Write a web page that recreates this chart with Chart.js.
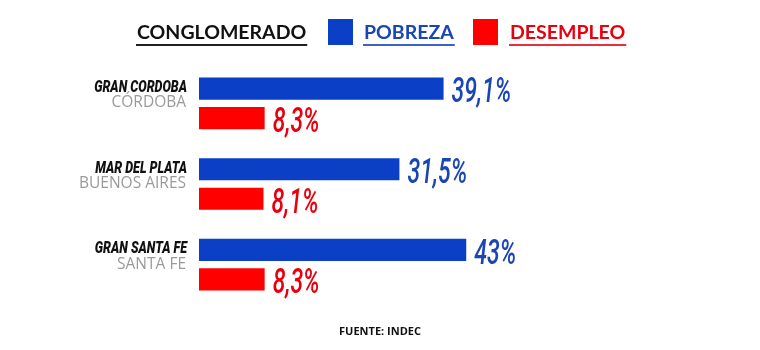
<!DOCTYPE html>
<html><head><meta charset="utf-8">
<script src="https://cdn.jsdelivr.net/npm/chart.js@4/dist/chart.umd.min.js"></script>
<style>html,body{margin:0;padding:0;background:#fff}#wrap{position:relative;width:760px;height:350px}</style>
</head><body><div id="wrap"><canvas id="c" width="760" height="350"></canvas></div>
<script>
const conglomerados = ["GRAN CORDOBA", "MAR DEL PLATA", "GRAN SANTA FE"];
const provincias = ["CÓRDOBA", "BUENOS AIRES", "SANTA FE"];
const pobreza = [39.1, 31.5, 43];
const desempleo = [8.3, 8.1, 8.3];
const legendTitle = "CONGLOMERADO";
const seriesNames = ["POBREZA", "DESEMPLEO"];
const fuente = "FUENTE: INDEC";

const BLUE = "#0b3fc6", RED = "#ff0000";
const BLUE_TXT = "#1a45b5", RED_TXT = "#e8000f";
const AXIS_MIN = -3;

const fmt = v => String(v).replace('.', ',') + '%';

const drawPlugin = {
  id: 'custom',
  afterDatasetsDraw(chart) {
    const ctx = chart.ctx;
    const ys = chart.scales.y;
    chart.data.datasets.forEach((ds, di) => {
      const meta = chart.getDatasetMeta(di);
      meta.data.forEach((el, i) => {
        ctx.save();
        ctx.translate(el.x + 8, el.y + 5);
        ctx.scale(0.66, 1);
        ctx.font = 'italic 500 35px Roboto';
        ctx.fillStyle = di === 0 ? BLUE_TXT : RED_TXT;
        ctx.textBaseline = 'middle';
        ctx.textAlign = 'left';
        ctx.fillText(fmt(ds.data[i]), 0, 0);
        ctx.restore();
      });
    });
    conglomerados.forEach((name, i) => {
      const yc = ys.getPixelForValue(i);
      ctx.save();
      ctx.translate(187, yc - 11.5);
      ctx.scale(0.76, 1);
      ctx.font = 'italic 900 16.5px Roboto';
      ctx.fillStyle = '#111';
      ctx.textAlign = 'right';
      ctx.textBaseline = 'alphabetic';
      ctx.fillText(name, 0, 0);
      ctx.restore();
      ctx.save();
      ctx.font = '15.5px "Open Sans"';
      ctx.fillStyle = '#9a9a9a';
      ctx.textAlign = 'right';
      ctx.textBaseline = 'alphabetic';
      ctx.fillText(provincias[i], 186, yc + 4);
      ctx.restore();
    });
  },
  afterDraw(chart) {
    const ctx = chart.ctx;
    ctx.save();
    ctx.textBaseline = 'alphabetic';
    ctx.textAlign = 'left';
    ctx.font = 'bold 19.5px Lato';
    const drawUnder = (txt, x, color, lineColor) => {
      ctx.fillStyle = color;
      ctx.fillText(txt, x, 39);
      const w = ctx.measureText(txt).width;
      ctx.fillStyle = lineColor;
      ctx.fillRect(x - 1, 44, w + 2, 2);
    };
    drawUnder(legendTitle, 137, '#111', '#222');
    ctx.fillStyle = BLUE; ctx.fillRect(328, 19, 25, 26);
    drawUnder(seriesNames[0], 364, BLUE_TXT, '#3a62c8');
    ctx.fillStyle = RED; ctx.fillRect(473, 19, 25, 26);
    drawUnder(seriesNames[1], 510, RED_TXT, '#e8303a');
    ctx.font = 'bold 11px "Open Sans"';
    ctx.fillStyle = '#111';
    ctx.textAlign = 'center';
    ctx.textBaseline = 'middle';
    ctx.fillText(fuente, 380, 332);
    ctx.restore();
  }
};

new Chart(document.getElementById('c'), {
  type: 'bar',
  data: {
    labels: conglomerados,
    datasets: [
      { label: seriesNames[0], data: pobreza, backgroundColor: BLUE, base: AXIS_MIN,
        categoryPercentage: 0.733, barPercentage: 0.75 },
      { label: seriesNames[1], data: desempleo, backgroundColor: RED, base: AXIS_MIN,
        categoryPercentage: 0.733, barPercentage: 0.75 }
    ]
  },
  options: {
    indexAxis: 'y',
    responsive: false,
    animation: false,
    layout: { padding: { left: 199, right: 195, top: 63, bottom: 45 } },
    plugins: { legend: { display: false }, tooltip: { enabled: false } },
    scales: {
      x: { display: false, min: AXIS_MIN, max: 60 },
      y: { display: false }
    }
  },
  plugins: [drawPlugin]
});
</script></body></html>
